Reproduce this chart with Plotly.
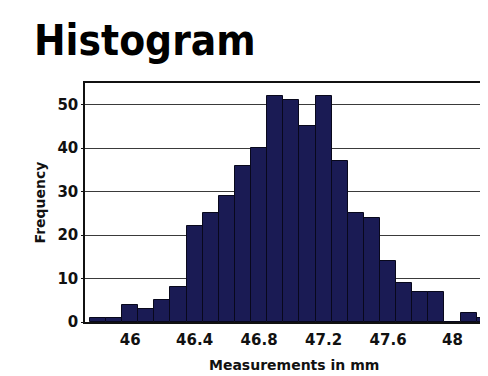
import plotly.graph_objects as go

bin_centers = [45.8, 45.9, 46.0, 46.1, 46.2, 46.3, 46.4, 46.5, 46.6, 46.7, 46.8,
               46.9, 47.0, 47.1, 47.2, 47.3, 47.4, 47.5, 47.6, 47.7, 47.8, 47.9,
               48.0, 48.1, 48.2]
frequency = [1, 1, 4, 3, 5, 8, 22, 25, 29, 36, 40,
             52, 51, 45, 52, 37, 25, 24, 14, 9, 7, 7,
             0, 2, 1]
x_tickvals = [46, 46.4, 46.8, 47.2, 47.6, 48]
x_ticktext = ["46", "46.4", "46.8", "47.2", "47.6", "48"]
y_tickvals = [0, 10, 20, 30, 40, 50]

fig = go.Figure()
fig.add_trace(go.Bar(
    x=bin_centers, y=frequency, width=0.1,
    marker=dict(color="#1a1b54", line=dict(color="#08081c", width=1)),
))

fam = "'DejaVu Sans', Arial, sans-serif"
label_font = dict(family=fam, size=15, color="#111", weight="bold")

fig.update_layout(
    width=480, height=368,
    margin=dict(l=77, r=0, t=75, b=54),
    paper_bgcolor="white", plot_bgcolor="white",
    showlegend=False, bargap=0,
    annotations=[
        dict(text="Histogram", xref="paper", yref="paper", x=-0.131, y=1.289,
             xanchor="left", yanchor="top", showarrow=False,
             font=dict(family="'DejaVu Sans Condensed', 'DejaVu Sans', sans-serif",
                       size=42, color="#000", weight="bold")),
        dict(text="Measurements in mm", xref="paper", yref="paper", x=0.519, y=0,
             yshift=-33, xanchor="center", yanchor="top", showarrow=False,
             font=dict(family=fam, size=14, color="#111", weight="bold")),
    ],
)
fig.update_xaxes(
    range=[45.72, 48.22], tickvals=x_tickvals, ticktext=x_ticktext,
    showgrid=False, showline=True, linecolor="#111", linewidth=1.5, mirror=True,
    ticks="", tickfont=label_font, ticklabelstandoff=3, automargin=False,
    zeroline=False,
)
fig.update_yaxes(
    range=[0, 55], tickvals=y_tickvals,
    showgrid=True, gridcolor="#3a3a3a", gridwidth=1,
    showline=True, linecolor="#111", linewidth=1.5,
    ticks="outside", ticklen=2, tickcolor="#111", automargin=False,
    tickfont=label_font, ticklabelstandoff=0,
    title=dict(text="Frequency", font=dict(family=fam, size=14, color="#111", weight="bold"), standoff=8),
    zeroline=False,
)
fig.write_html("out.html")
